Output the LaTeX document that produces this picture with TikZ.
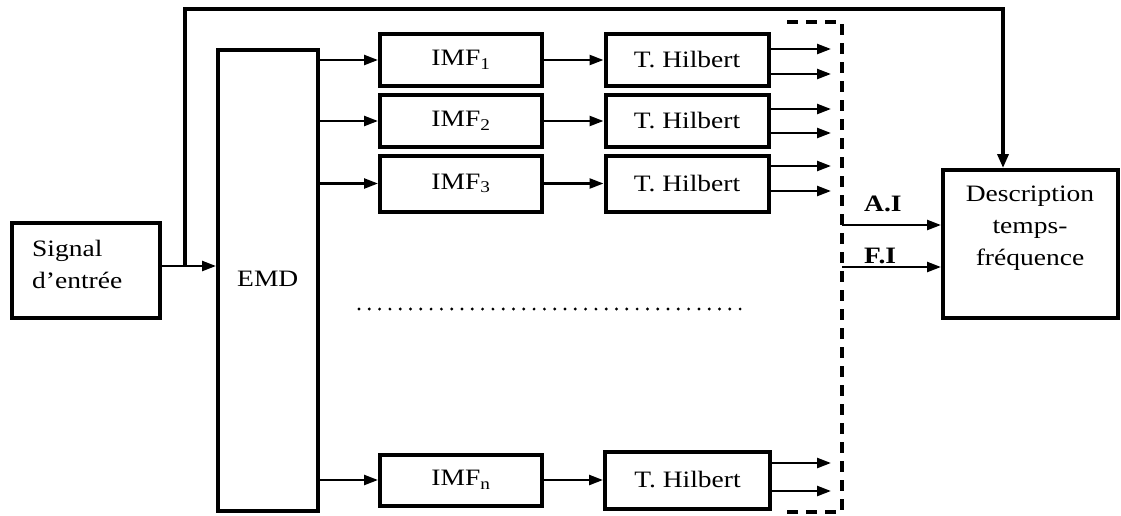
\documentclass[tikz,border=0pt]{standalone}
\usepackage{fontspec}
\setmainfont{Liberation Serif}[FakeStretch=1.17]
\usetikzlibrary{arrows.meta}
\begin{document}
\begin{tikzpicture}[x=1pt,y=-1pt,
  box/.style={draw,line width=4pt,inner sep=0pt,font=\fontsize{23.5}{32}\selectfont},
  txt/.style={inner sep=0pt,font=\fontsize{23.5}{32}\selectfont},
  arr/.style={line width=2.4pt,-{Triangle[length=14pt,width=10pt]}},
  fb/.style={line width=3.4pt,-{Triangle[length=14pt,width=11pt]}},
  dsh/.style={line width=3.4pt,dash pattern=on 11pt off 8pt},
  dots/.style={line width=3.2pt,line cap=round,dash pattern=on 0pt off 10.3pt}]
\useasboundingbox (0,0) rectangle (1121,515);
% boxes
\node[box,minimum width=148pt,minimum height=95pt] (sig) at (86,270.5) {};
\node[txt,anchor=west,align=left] (sigt) at (32,264) {Signal\\d’entrée};
\node[box,minimum width=100pt,minimum height=461pt] (emd) at (268,280.5) {};
\node[txt,anchor=west] (emdt) at (237,279) {EMD};
\node[box,minimum width=162pt,minimum height=52pt] (imf1) at (461,60) {IMF\textsubscript{1}};
\node[box,minimum width=162pt,minimum height=52pt] (imf2) at (461,121) {IMF\textsubscript{2}};
\node[box,minimum width=162pt,minimum height=56pt] (imf3) at (461,183.5) {IMF\textsubscript{3}};
\node[box,minimum width=162pt,minimum height=51pt] (imfn) at (461,480) {IMF\textsubscript{n}};
\node[box,minimum width=163pt,minimum height=52pt] (hil1) at (687,60) {T. Hilbert};
\node[box,minimum width=163pt,minimum height=52pt] (hil2) at (687,121) {T. Hilbert};
\node[box,minimum width=163pt,minimum height=56pt] (hil3) at (687,183.5) {T. Hilbert};
\node[box,minimum width=165pt,minimum height=57pt] (hiln) at (687.5,480) {T. Hilbert};
\node[box,minimum width=175pt,minimum height=148pt] (desc) at (1030.5,244) {};
\node[txt,align=center] (desct) at (1030,228) {Description\\temps-\\fréquence};
% input and feedback
\coordinate (split) at (185,266);
\coordinate (top) at (1003,9);
\draw[line width=2.4pt] (sig.east |- split) -- (split);
\draw[arr] (split) -- (split -| emd.west);
\draw[fb] (split) |- (top) -- (top |- desc.north);
% EMD to IMFs
\foreach \i in {imf1,imf2,imf3,imfn}{
  \draw[arr] (\i.west -| emd.east) -- (\i.west);
}
\foreach \a/\b in {imf1/hil1,imf2/hil2,imf3/hil3,imfn/hiln}{
  \draw[arr] (\a.east) -- (\b.west);
}
% Hilbert outputs
\coordinate (outx) at (831,0);
\foreach \h/\u/\d in {hil1/11/-14,hil2/12/-12,hil3/17.5/-7.5,hiln/17/-11}{
  \draw[arr] ([yshift=\u pt]\h.east) -- ([yshift=\u pt]\h.east -| outx);
  \draw[arr] ([yshift=\d pt]\h.east) -- ([yshift=\d pt]\h.east -| outx);
}
% dashed collector
\coordinate (dtl) at (787,22);
\coordinate (dtr) at (842,22);
\coordinate (dbr) at (842,512);
\coordinate (dbl) at (787,512);
\draw[dsh] (dtl) -- (dtr) -- (dbr) -- (dbl);
% outputs A.I and F.I
\coordinate (ai) at (842,225);
\coordinate (fi) at (842,267);
\draw[arr] (ai) -- (ai -| desc.west);
\draw[arr] (fi) -- (fi -| desc.west);
\node[txt,anchor=west,font=\fontsize{23.5}{32}\selectfont\bfseries] (ail) at (864,204) {A.I};
\node[txt,anchor=west,font=\fontsize{23.5}{32}\selectfont\bfseries] (fil) at (864,256) {F.I};
% dotted ellipsis
\coordinate (d1) at (359,309);
\coordinate (d2) at (741,309);
\draw[dots] (d1) -- (d2);
\end{tikzpicture}
\end{document}
